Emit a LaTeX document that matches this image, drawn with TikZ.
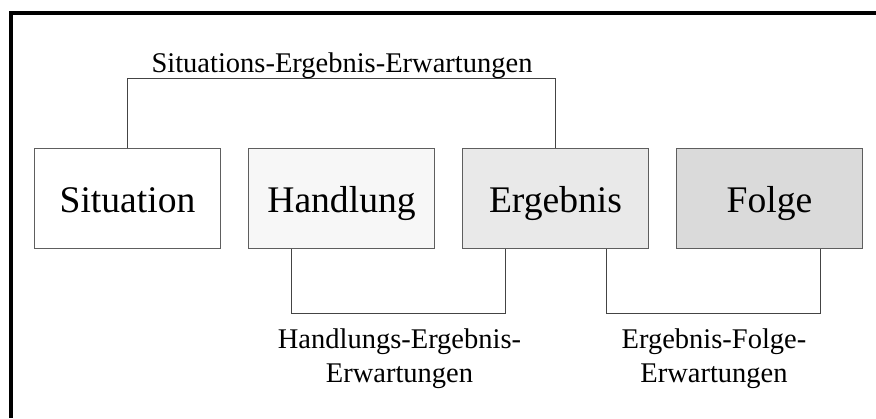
\documentclass[tikz,border=0pt]{standalone}
\usepackage{fontspec}
\setmainfont{Liberation Serif}
\usetikzlibrary{positioning}
\definecolor{randgrau}{HTML}{5E5E5E}
\definecolor{liniengrau}{HTML}{444444}
\definecolor{hell}{HTML}{F7F7F7}
\definecolor{mittel}{HTML}{E9E9E9}
\definecolor{dunkel}{HTML}{DADADA}
\tikzset{
  kasten/.style={draw=randgrau, line width=1pt, minimum width=186pt, minimum height=100pt,
    inner sep=0pt, text height=34pt, text depth=6pt, font=\fontsize{37.6}{45}\selectfont},
  linie/.style={draw=liniengrau, line width=0.9pt},
  beschriftung/.style={align=center, inner sep=0pt, anchor=north}
}
\begin{document}
\begin{tikzpicture}[x=1pt, y=1pt, line join=miter, node distance=27pt,
    font=\fontsize{28.5}{34}\selectfont]
  \useasboundingbox (0,0) rectangle (876,418);
  % Rahmen oben und links
  \draw[line width=4pt] (11.3,0) -- (11.3,405) -- (876,405);
  \node[kasten] (sit) at (127.5,219) {Situation};
  \node[kasten, fill=hell, right=of sit] (hand) {Handlung};
  \node[kasten, fill=mittel, right=of hand] (erg) {Ergebnis};
  \node[kasten, fill=dunkel, right=of erg] (folge) {Folge};
  % Verbindungen
  \draw[linie] (sit.north) -- ++(0,70) -| (erg.north);
  \draw[linie] ([xshift=-50pt]hand.south) -- ++(0,-64) -| ([xshift=-50pt]erg.south);
  \draw[linie] ([xshift=51pt]erg.south) -- ++(0,-64) -| ([xshift=51pt]folge.south);
  \node[anchor=base, inner sep=0pt] (se) at (342,345) {Situations-Ergebnis-Erwartungen};
  \node[beschriftung] (he) at (399.5,89.5) {Handlungs-Ergebnis-\\Erwartungen};
  \node[beschriftung] (ef) at (714,89.5) {Ergebnis-Folge-\\Erwartungen};
\end{tikzpicture}
\end{document}
